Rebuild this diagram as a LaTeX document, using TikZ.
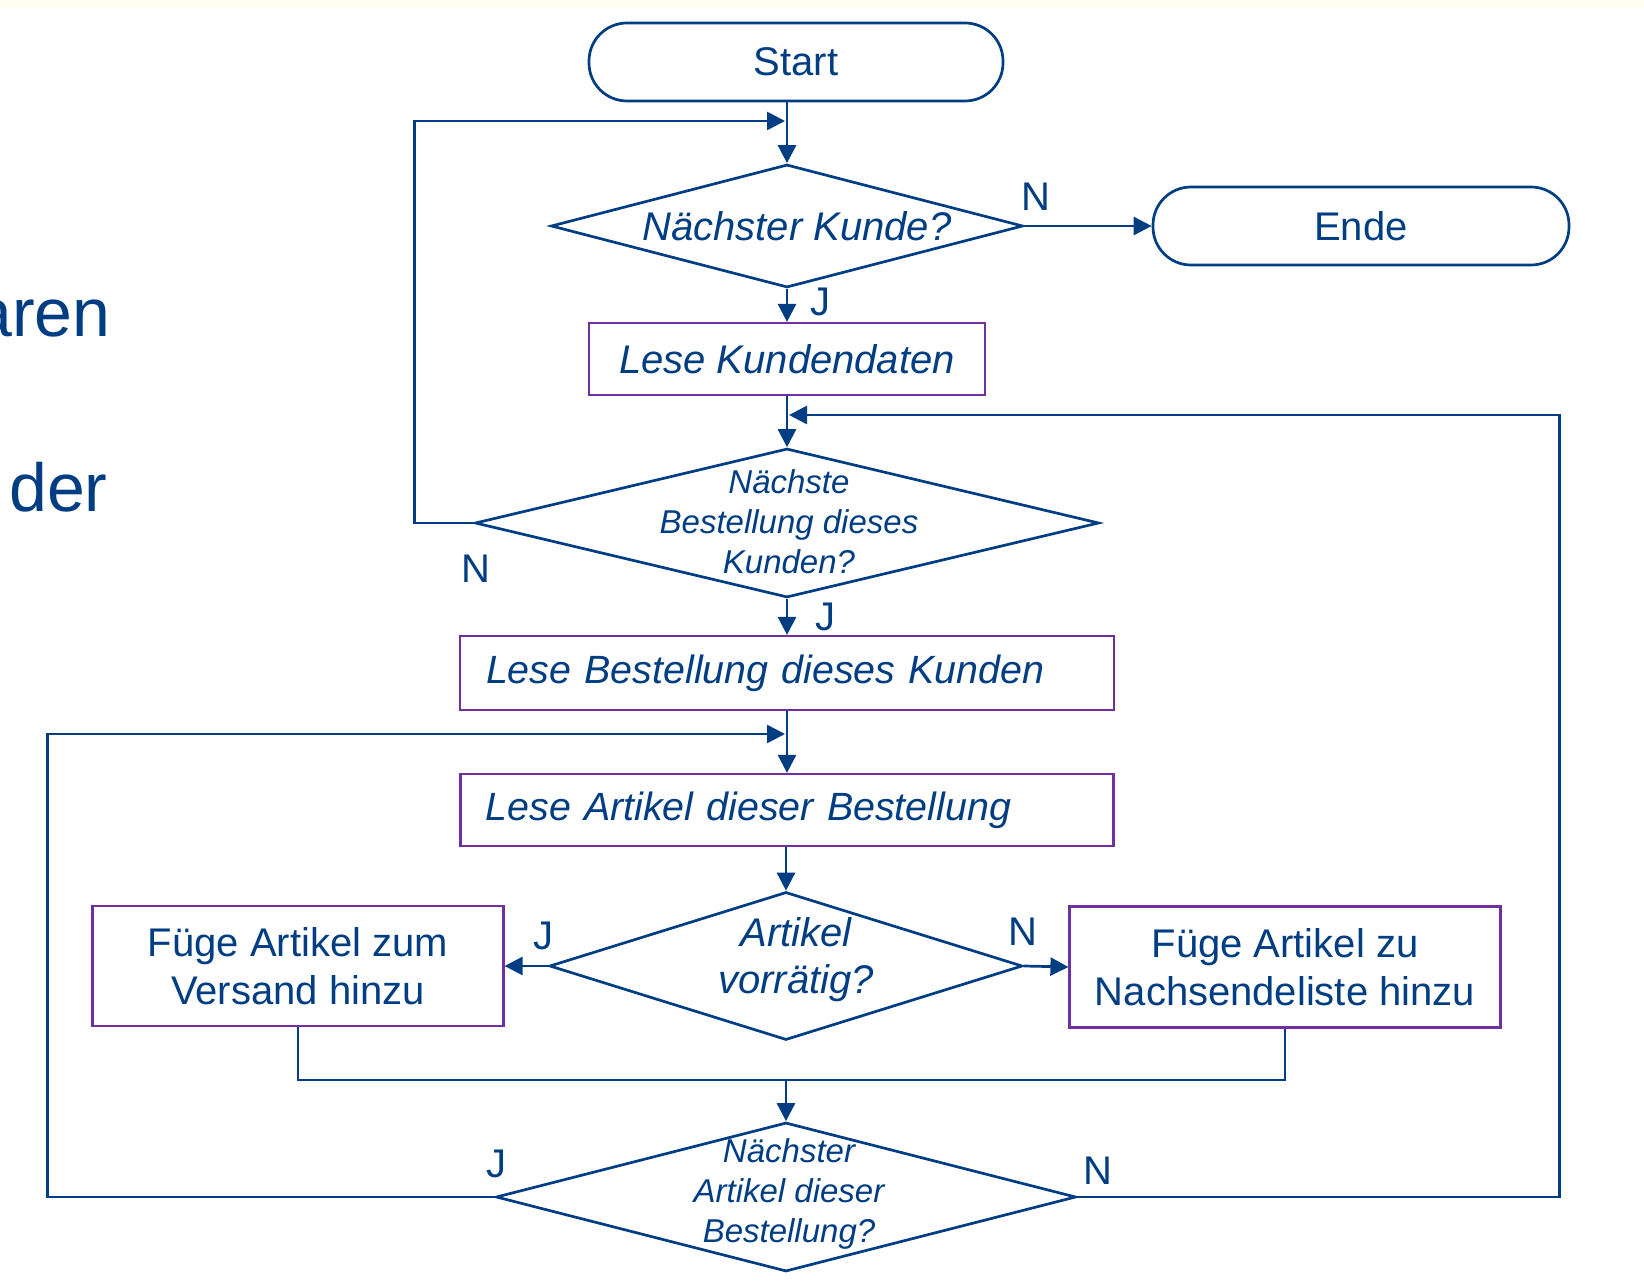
\documentclass[tikz,border=0pt]{standalone}
\usepackage{fontspec}
\setmainfont{Liberation Sans}
\usetikzlibrary{shapes.geometric,arrows.meta}
\definecolor{azul}{RGB}{0,61,130}
\definecolor{lila}{RGB}{112,48,160}

\begin{document}
\begin{tikzpicture}[x=0.5pt,y=-0.5pt,azul,
    flecha/.style={line width=1.35pt,-{Triangle[length=9pt,width=9pt]}},
    linea/.style={line width=1.35pt},
    terminal/.style={draw,line width=1.35pt,rounded corners=19pt,
        minimum width=207pt,minimum height=39pt,inner sep=0pt,
        font=\fontsize{20}{24}\selectfont},
    caja/.style={draw=lila,line width=1.1pt,inner sep=0pt},
    decision/.style={diamond,draw,line width=1.35pt,inner sep=0pt},
    grande/.style={font=\fontsize{20}{24}\selectfont,align=center},
    cursiva/.style={font=\fontsize{20}{23.5}\selectfont\itshape,align=center,inner sep=0pt},
    chica/.style={font=\fontsize{16.5}{20}\selectfont\itshape,align=center,inner sep=0pt},
    marca/.style={font=\fontsize{20}{24}\selectfont,inner sep=0pt}]

    % Marco
    \useasboundingbox (0,0) rectangle (1644,1288);
    \fill[yellow!6] (0,0) rectangle (1644,8);

    % Texto cortado a la izquierda
    \node[font=\fontsize{34}{40}\selectfont,anchor=base east,inner sep=0pt] (wa) at (111,337) {aren};
    \node[font=\fontsize{34}{40}\selectfont,anchor=base east,inner sep=0pt] (wb) at (108,512) {der};

    % Inicio y fin
    \node[terminal] (start) at (796,62) {Start};
    \node[terminal,minimum width=208pt] (ende) at (1361,226) {Ende};

    % Decisiones
    \node[decision,minimum width=236pt,minimum height=61.5pt] (d1) at (787,226) {};
    \node[decision,minimum width=312pt,minimum height=74.5pt] (d2) at (787,523) {};
    \node[decision,minimum width=236.5pt,minimum height=74pt] (d3) at (786,966) {};
    \node[decision,minimum width=290pt,minimum height=74.5pt] (d4) at (786,1197) {};
    \node[cursiva] (d1t) at (797,226) {Nächster Kunde?};
    \node[chica] (d2t) at (789,522) {Nächste\\Bestellung dieses\\Kunden?};
    \node[cursiva] (d3t) at (796,960) {Artikel\\vorrätig?};
    \node[chica] (d4t) at (789,1194) {Nächster\\Artikel dieser\\Bestellung?};

    % Cajas
    \node[caja,minimum width=198pt,minimum height=36pt,
        font=\fontsize{20}{24}\selectfont\itshape] (b1) at (787,359) {Lese Kundendaten};
    \node[caja,minimum width=327pt,minimum height=37pt,inner xsep=13pt,text width=301pt,
        align=left,font=\fontsize{19.7}{24}\selectfont\itshape] (b2) at (787,673) {Lese Bestellung dieses Kunden};
    \node[caja,minimum width=326.5pt,minimum height=36pt,inner xsep=12.5pt,text width=301.5pt,
        align=left,font=\fontsize{19.7}{24}\selectfont\itshape] (b3) at (787,810) {Lese Artikel dieser Bestellung};
    \node[caja,grande,minimum width=205.5pt,minimum height=60pt] (b4) at (298,966) {Füge Artikel zum\\Versand hinzu};
    \node[caja,grande,minimum width=215.5pt,minimum height=60.5pt] (b5) at (1285,967) {Füge Artikel zu\\Nachsendeliste hinzu};

    % Puntos de llegada
    \coordinate (e1) at (785,121);
    \coordinate (e2) at (785,734);
    \coordinate (e3) at (789,415);
    \coordinate (m) at (786,1079);

    % Flujo principal
    \draw[flecha] (start.south -| d1.north) -- (d1.north);
    \draw[flecha] (d1.east) -- (ende.west);
    \draw[flecha] (d1.south) -- (b1.north);
    \draw[flecha] (b1.south) -- (d2.north);
    \draw[flecha] (d2.south) -- (b2.north);
    \draw[flecha] (b2.south) -- (b3.north);
    \draw[flecha] (b3.south -| d3.north) -- (d3.north);
    \draw[flecha] (d3.west) -- (b4.east);
    \draw[flecha] (d3.east) -- (b5.east -| b5.west);
    \draw[linea] (b4.south) -- ++(0,53) -| (b5.south);
    \draw[flecha] (m) -- (d4.north);

    % Bucles
    \draw[flecha] (d2.west) -- ++(-59,0) |- (e1);
    \draw[flecha] (d4.west) -- ++(-447,0) |- (e2);
    \draw[flecha] (d4.east) -- ++(482,0) |- (e3);

    % Etiquetas J / N
    \node[marca] (n1) at (1036,197) {N};
    \node[marca] (j1) at (820,302) {J};
    \node[marca] (n2) at (476,569) {N};
    \node[marca] (j2) at (825,617) {J};
    \node[marca] (j3) at (543,936) {J};
    \node[marca] (n3) at (1023,932) {N};
    \node[marca] (j4) at (496,1164) {J};
    \node[marca] (n4) at (1098,1171) {N};
\end{tikzpicture}
\end{document}
